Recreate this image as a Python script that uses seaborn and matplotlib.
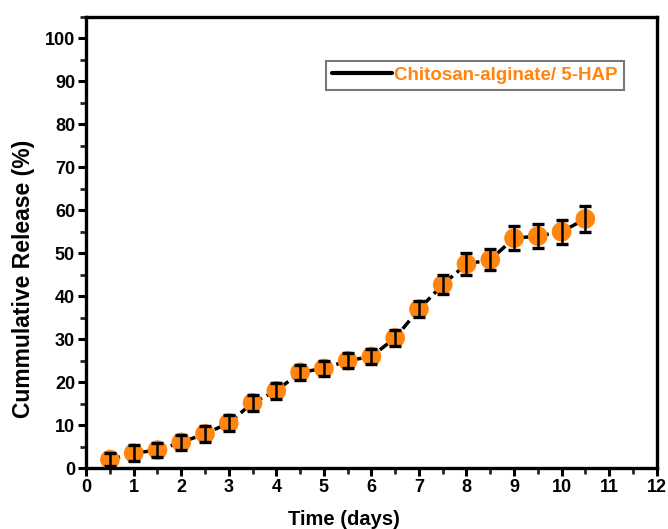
import matplotlib
matplotlib.use("Agg")
import matplotlib.pyplot as plt
import seaborn as sns
import pandas as pd
from matplotlib.ticker import MultipleLocator
from matplotlib.lines import Line2D

time_days = [0.5, 1.0, 1.5, 2.0, 2.5, 3.0, 3.5, 4.0, 4.5, 5.0, 5.5,
             6.0, 6.5, 7.0, 7.5, 8.0, 8.5, 9.0, 9.5, 10.0, 10.5]
release = [2.0, 3.5, 4.2, 6.0, 8.0, 10.5, 15.2, 18.0, 22.3, 23.2, 25.0,
           26.0, 30.3, 37.0, 42.7, 47.5, 48.5, 53.5, 54.0, 55.0, 58.0]
error = [1.5, 1.8, 1.7, 1.8, 1.8, 1.8, 1.8, 1.8, 1.8, 1.8, 1.8,
         1.8, 1.8, 1.8, 2.2, 2.5, 2.5, 2.8, 2.8, 2.8, 3.0]
legend_label = "Chitosan-alginate/ 5-HAP"

df = pd.DataFrame({"t": time_days, "r": release, "e": error})

sns.set_theme(style="ticks")
plt.rcParams['font.family'] = ['Liberation Sans', 'DejaVu Sans']
plt.rcParams['font.weight'] = 'bold'
plt.rcParams['text.color'] = 'black'
plt.rcParams['axes.labelcolor'] = 'black'

fig = plt.figure(figsize=(6.68, 5.29), dpi=100)
ax = fig.add_axes([0.129, 0.115, 0.854, 0.853])

orange = "#FF8410"
sns.lineplot(data=df, x="t", y="r", ax=ax, color="black", linewidth=2.5,
             linestyle=(0, (3, 1.5)), zorder=1)
sns.scatterplot(data=df, x="t", y="r", ax=ax, color=orange, s=200,
                edgecolor="none", zorder=3)
ax.errorbar(df["t"], df["r"], yerr=df["e"], fmt="none", ecolor="black",
            elinewidth=1.8, capsize=4.5, capthick=2.4, zorder=4)

ax.set_xlim(0, 12)
ax.set_ylim(0, 105)
ax.xaxis.set_major_locator(MultipleLocator(1))
ax.xaxis.set_minor_locator(MultipleLocator(0.5))
ax.set_yticks(range(0, 101, 10))
ax.yaxis.set_minor_locator(MultipleLocator(5))

for s in ax.spines.values():
    s.set_visible(True)
    s.set_linewidth(2.4)
    s.set_color("black")

ax.tick_params(which="major", direction="out", length=6, width=2.2,
               labelsize=13, colors="black", pad=2)
ax.tick_params(which="minor", direction="out", length=4, width=2.0)
for lab in ax.get_xticklabels() + ax.get_yticklabels():
    lab.set_fontweight("bold")

ax.set_xlabel("Time (days)", fontsize=14.5, fontweight="bold")
ax.set_ylabel("Cummulative Release (%)", fontsize=16.5, fontweight="bold")
ax.xaxis.set_label_coords(0.452, -0.093)
ax.yaxis.set_label_coords(-0.09, 0.42)

handle = Line2D([0], [0], color="black", linewidth=3)
leg = ax.legend([handle], [legend_label], loc="upper right",
                bbox_to_anchor=(0.942, 0.902), frameon=True, fancybox=False,
                handlelength=3.2, handletextpad=0.15, borderpad=0.3,
                borderaxespad=0.0,
                prop={"weight": "bold", "size": 13.5})
leg.get_frame().set_edgecolor("#555555")
leg.get_frame().set_linewidth(1.5)
for t in leg.get_texts():
    t.set_color(orange)

fig.savefig("out.png", dpi=100)
